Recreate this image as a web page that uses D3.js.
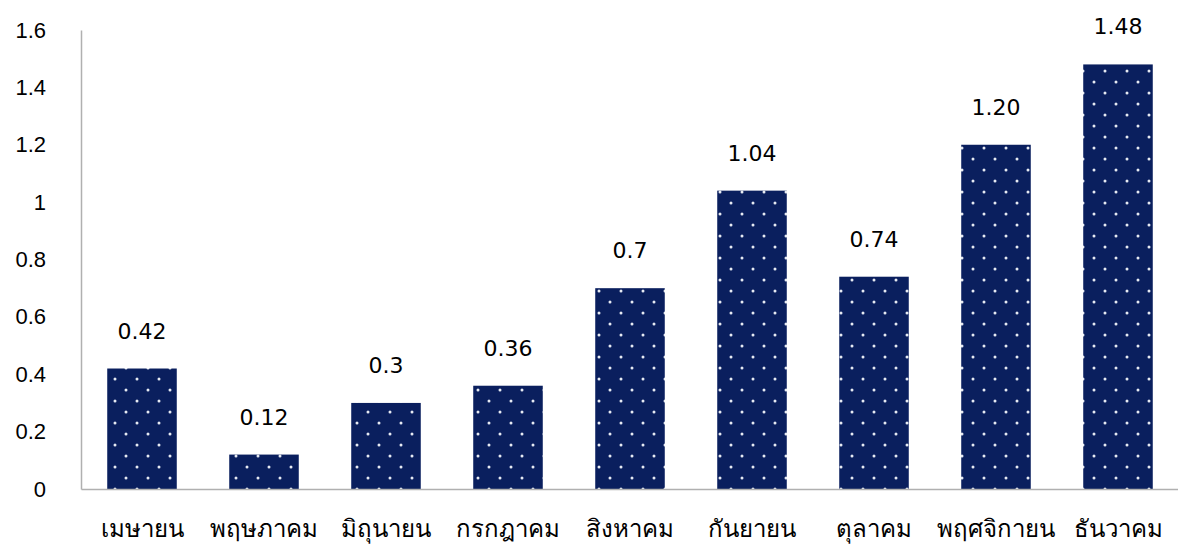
<!DOCTYPE html>
<html>
<head>
<meta charset="utf-8">
<script src="https://cdn.jsdelivr.net/npm/d3@7"></script>
<style>
  body { margin: 0; background: #fff; }
  svg { font-family: "DejaVu Sans", "Noto Sans", sans-serif; }
</style>
</head>
<body>
<svg id="chart"></svg>
<script>
// data
const months = ['เมษายน', 'พฤษภาคม', 'มิถุนายน', 'กรกฎาคม', 'สิงหาคม', 'กันยายน', 'ตุลาคม', 'พฤศจิกายน', 'ธันวาคม'];
const values = [0.42, 0.12, 0.3, 0.36, 0.7, 1.04, 0.74, 1.20, 1.48];
const valueLabels = ['0.42', '0.12', '0.3', '0.36', '0.7', '1.04', '0.74', '1.20', '1.48'];
const yTicks = [0, 0.2, 0.4, 0.6, 0.8, 1, 1.2, 1.4, 1.6];

const width = 1178, height = 549;
const margin = {top: 30, right: 0, bottom: 60, left: 81};

const svg = d3.select('#chart')
  .attr('width', width)
  .attr('height', height);

// dotted fill like the original
const defs = svg.append('defs');
const pat = defs.append('pattern')
  .attr('id', 'dots')
  .attr('patternUnits', 'userSpaceOnUse')
  .attr('width', 22)
  .attr('height', 22);
pat.append('rect').attr('width', 22).attr('height', 22).attr('fill', '#0a1f5e');
pat.append('circle').attr('cx', 5).attr('cy', 5).attr('r', 1.5).attr('fill', '#e6eaf2');
pat.append('circle').attr('cx', 16).attr('cy', 16).attr('r', 1.5).attr('fill', '#e6eaf2');

const x = d3.scaleBand()
  .domain(months)
  .range([margin.left, width + 1])
  .paddingInner(0.43)
  .paddingOuter(0.215);

const y = d3.scaleLinear()
  .domain([0, 1.6])
  .range([height - margin.bottom, margin.top]);

// bars
svg.selectAll('.bar')
  .data(values)
  .join('rect')
  .attr('class', 'bar')
  .attr('x', (d, i) => x(months[i]))
  .attr('width', x.bandwidth())
  .attr('y', d => y(d))
  .attr('height', d => y(0) - y(d))
  .attr('fill', 'url(#dots)');

// value labels
svg.selectAll('.label')
  .data(values)
  .join('text')
  .attr('class', 'label')
  .attr('x', (d, i) => x(months[i]) + x.bandwidth() / 2)
  .attr('y', d => y(d) - 30)
  .attr('text-anchor', 'middle')
  .attr('font-size', '22px')
  .attr('fill', '#000')
  .text((d, i) => valueLabels[i]);

// y axis
const yAxis = d3.axisLeft(y)
  .tickValues(yTicks)
  .tickFormat(d3.format('~g'))
  .tickSize(0)
  .tickPadding(35);

const yAxisG = svg.append('g')
  .attr('transform', `translate(${margin.left},0)`)
  .call(yAxis);
yAxisG.select('.domain').attr('stroke', '#b0b0b0').attr('stroke-width', 1.5);
yAxisG.selectAll('text').attr('font-size', '22px').attr('fill', '#000').attr('font-family', null);

// x axis
const xAxis = d3.axisBottom(x)
  .tickSize(0)
  .tickSizeOuter(0)
  .tickPadding(31);

const xAxisG = svg.append('g')
  .attr('transform', `translate(0,${y(0)})`)
  .call(xAxis);
xAxisG.select('.domain').attr('stroke', '#b0b0b0').attr('stroke-width', 1.5);
xAxisG.selectAll('text').attr('font-size', '24px').attr('fill', '#000').attr('font-family', null);
</script>
</body>
</html>
